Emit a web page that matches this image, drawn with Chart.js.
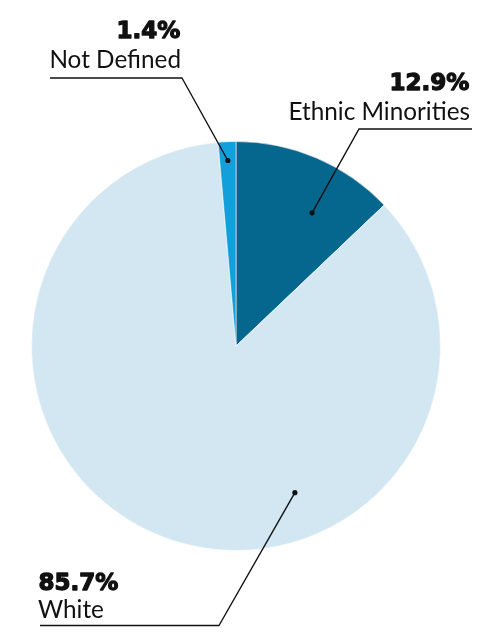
<!DOCTYPE html>
<html>
<head>
<meta charset="utf-8">
<script src="https://cdn.jsdelivr.net/npm/chart.js@4/dist/chart.umd.min.js"></script>
<style>
  html, body { margin: 0; padding: 0; background: #ffffff; }
  #wrap { width: 491px; height: 633px; position: relative; }
</style>
</head>
<body>
<div id="wrap"><canvas id="c" width="491" height="633"></canvas></div>
<script>
// ---- data ----
const categories = ["Ethnic Minorities", "White", "Not Defined"];
const values = [12.9, 85.7, 1.4];
const valueLabels = ["12.9%", "85.7%", "1.4%"];
const colors = ["#05668e", "#d2e7f2", "#12a0dc"];

// ---- label layout (annotation placement) ----
const labelLayout = [
  // Ethnic Minorities
  { t: 0.64, rf: 0.75, align: "right", textX: 470, pctY: 90, nameY: 120, lineY: 129, lineFrom: 472, lineTo: 359 },
  // White
  { t: 0.362, rf: 0.773, align: "left", textX: 38, pctY: 590, nameY: 618, lineY: 625.5, lineFrom: 40, lineTo: 219 },
  // Not Defined
  { t: 0.5, rf: 0.908, align: "right", textX: 181, pctY: 38, nameY: 68, lineY: 78, lineFrom: 50, lineTo: 182 }
];

const calloutPlugin = {
  id: "callouts",
  afterDatasetsDraw(chart) {
    const ctx = chart.ctx;
    const meta = chart.getDatasetMeta(0);
    ctx.save();
    meta.data.forEach((arc, i) => {
      const L = labelLayout[i];
      const p = arc.getProps(["x", "y", "startAngle", "endAngle", "outerRadius"], true);
      const a = p.startAngle + L.t * (p.endAngle - p.startAngle);
      const r = L.rf * p.outerRadius;
      const dx = p.x + Math.cos(a) * r;
      const dy = p.y + Math.sin(a) * r;
      // leader line
      ctx.strokeStyle = "#111111";
      ctx.lineWidth = 1.4;
      ctx.beginPath();
      ctx.moveTo(L.lineFrom, L.lineY);
      ctx.lineTo(L.lineTo, L.lineY);
      ctx.lineTo(dx, dy);
      ctx.stroke();
      ctx.fillStyle = "#111111";
      ctx.beginPath();
      ctx.arc(dx, dy, 2.6, 0, Math.PI * 2);
      ctx.fill();
      // texts
      ctx.textAlign = L.align;
      ctx.textBaseline = "alphabetic";
      ctx.fillStyle = "#111111";
      ctx.font = "bold 23px 'DejaVu Sans', sans-serif";
      const px = L.align === "right" ? L.textX - 0.6 : L.textX + 0.6;
      ctx.fillText(valueLabels[i], px, L.pctY);
      ctx.lineWidth = 1.3;
      ctx.lineJoin = "round";
      ctx.strokeText(valueLabels[i], px, L.pctY);
      ctx.font = "400 24.3px Lato, 'Open Sans', sans-serif";
      ctx.fillText(categories[i], L.textX, L.nameY);
    });
    ctx.restore();
  }
};

new Chart(document.getElementById("c"), {
  type: "pie",
  data: {
    labels: categories,
    datasets: [{
      data: values,
      backgroundColor: colors,
      borderColor: "rgba(255,255,255,0.55)",
      borderWidth: 1
    }]
  },
  options: {
    responsive: false,
    animation: false,
    layout: { padding: { left: 31, right: 50, top: 141, bottom: 82 } },
    plugins: {
      legend: { display: false },
      tooltip: { enabled: false }
    }
  },
  plugins: [calloutPlugin]
});
</script>
</body>
</html>
